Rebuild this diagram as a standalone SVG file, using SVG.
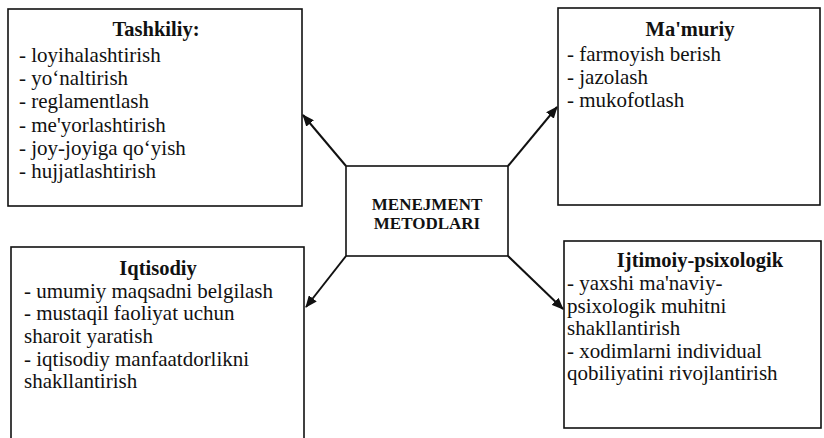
<svg xmlns="http://www.w3.org/2000/svg" width="824" height="438" viewBox="0 0 824 438">
<style>
  .box { fill: #fff; stroke: #111; stroke-width: 1.6; }
  text { font-family: 'Liberation Serif', 'Times New Roman', serif; fill: #111; }
  .t { font-size: 21px; }
  .h { font-size: 20.5px; font-weight: bold; text-anchor: middle; }
  .c { font-size: 17px; font-weight: bold; text-anchor: middle; }
  .arr { stroke: #111; stroke-width: 2; fill: none; marker-end: url(#ah); }
</style>
<defs>
  <marker id="ah" markerWidth="12" markerHeight="10" refX="11" refY="5" orient="auto" markerUnits="userSpaceOnUse">
    <path d="M0,0 L12,5 L0,10 Z" fill="#111"/>
  </marker>
</defs>
<rect width="824" height="438" fill="#fff"/>

<g id="tashkiliy">
  <rect class="box" x="8" y="9" width="294" height="197"/>
  <text class="h" x="156" y="36">Tashkiliy:</text>
  <text class="t" x="19" y="61.5">- loyihalashtirish</text>
  <text class="t" x="19" y="85">- yo‘naltirish</text>
  <text class="t" x="19" y="108">- reglamentlash</text>
  <text class="t" x="19" y="131.5">- me'yorlashtirish</text>
  <text class="t" x="19" y="155">- joy-joyiga qo‘yish</text>
  <text class="t" x="19" y="178">- hujjatlashtirish</text>
</g>

<g id="mamuriy">
  <rect class="box" x="558" y="8" width="262" height="197"/>
  <text class="h" x="690" y="36">Ma'muriy</text>
  <text class="t" x="567" y="61">- farmoyish berish</text>
  <text class="t" x="567" y="84">- jazolash</text>
  <text class="t" x="567" y="107">- mukofotlash</text>
</g>

<g id="menejment">
  <rect class="box" x="346" y="166" width="162" height="90"/>
  <text class="c" x="427" y="210">MENEJMENT</text>
  <text class="c" x="427" y="229">METODLARI</text>
</g>

<g id="iqtisodiy">
  <rect class="box" x="11" y="247" width="293" height="200"/>
  <text class="h" x="158" y="275">Iqtisodiy</text>
  <text class="t" x="24" y="297.5">- umumiy maqsadni belgilash</text>
  <text class="t" x="24" y="320">- mustaqil faoliyat uchun</text>
  <text class="t" x="24" y="343">sharoit yaratish</text>
  <text class="t" x="24" y="366">- iqtisodiy manfaatdorlikni</text>
  <text class="t" x="24" y="388">shakllantirish</text>
</g>

<g id="ijtimoiy">
  <rect class="box" x="564" y="241" width="257" height="187"/>
  <text class="h" x="700" y="267">Ijtimoiy-psixologik</text>
  <text class="t" x="567" y="289.5">- yaxshi ma'naviy-</text>
  <text class="t" x="567" y="312.5">psixologik muhitni</text>
  <text class="t" x="567" y="334.5">shakllantirish</text>
  <text class="t" x="567" y="357.5">- xodimlarni individual</text>
  <text class="t" x="567" y="380">qobiliyatini rivojlantirish</text>
</g>

<g id="connectors">
  <line class="arr" x1="346" y1="166" x2="303" y2="115"/>
  <line class="arr" x1="508" y1="166" x2="557" y2="107"/>
  <line class="arr" x1="346" y1="256" x2="306" y2="307"/>
  <line class="arr" x1="508" y1="256" x2="563" y2="309"/>
</g>
</svg>
